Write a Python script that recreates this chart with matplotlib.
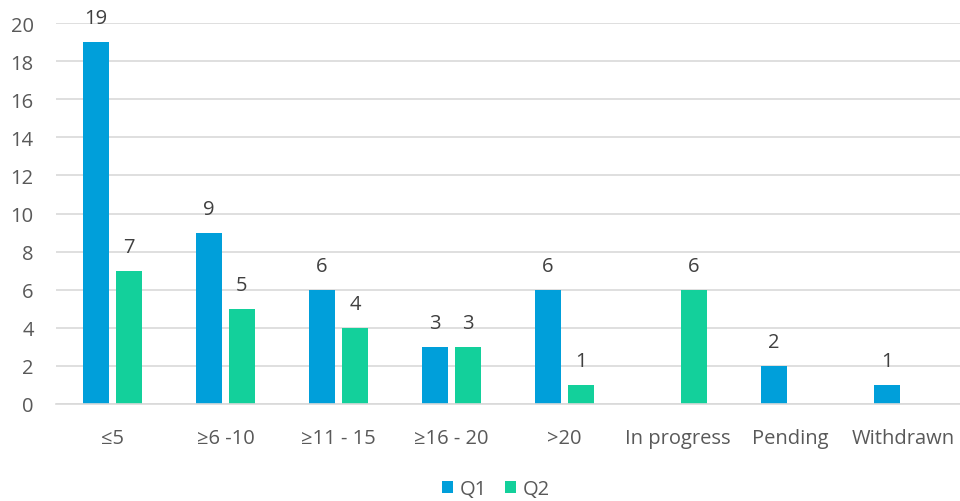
import matplotlib
matplotlib.use("Agg")
import matplotlib.pyplot as plt
import numpy as np

categories = ["≤5", "≥6 -10", "≥11 - 15", "≥16 - 20", ">20", "In progress", "Pending", "Withdrawn"]
q1 = [19, 9, 6, 3, 6, None, 2, 1]
q2 = [7, 5, 4, 3, 1, 6, None, None]
yticks = [0, 2, 4, 6, 8, 10, 12, 14, 16, 18, 20]

BLUE = "#009FDA"
GREEN = "#13D09B"
TEXT = "#595959"

plt.rcParams["font.family"] = ["Open Sans", "DejaVu Sans"]

fig = plt.figure(figsize=(9.6, 5.02), dpi=100)
ax = fig.add_axes([56 / 960, 1 - 405 / 502, 1 - 56 / 960, (405 - 24) / 502])

x = np.arange(len(categories))
width = 0.23
offset = 0.145


def draw_series(vals, shift, color, label):
    xs = [xi + shift for xi, v in zip(x, vals) if v is not None]
    hs = [v for v in vals if v is not None]
    bars = ax.bar(xs, hs, width, color=color, label=label, zorder=3)
    for bx, h in zip(xs, hs):
        ax.annotate(str(h), (bx, h), xytext=(0, 10), textcoords="offset points",
                    ha="center", va="bottom", fontsize=14.5, color="#404040")
    return bars


draw_series(q1, -offset, BLUE, "Q1")
draw_series(q2, offset, GREEN, "Q2")

ax.set_xlim(-0.5, len(categories) - 0.5)
ax.set_ylim(0, 20)
ax.set_yticks(yticks)
ax.set_xticks(x)
ax.set_xticklabels(categories)
ax.tick_params(axis="both", length=0, labelsize=14.5, colors=TEXT)
ax.tick_params(axis="x", pad=17)
ax.tick_params(axis="y", pad=16)
ax.yaxis.grid(True, color="#d9d9d9", linewidth=1.2, zorder=0)
for side in ["top", "right", "left"]:
    ax.spines[side].set_visible(False)
ax.spines["bottom"].set_color("#d9d9d9")
ax.spines["bottom"].set_linewidth(1.2)
ax.spines["bottom"].set_zorder(4)

# legend sits centred under the plot area, not the whole figure
fig.legend(loc="center", bbox_to_anchor=(496 / 960, 1 - 490 / 502), ncol=2, frameon=False,
           fontsize=14.5, labelcolor=TEXT, handlelength=0.55, handleheight=0.55,
           handletextpad=0.35, columnspacing=0.9)

fig.savefig("out.png", dpi=100)
